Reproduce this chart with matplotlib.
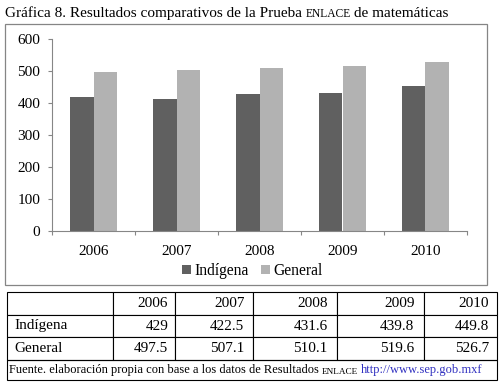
#!/usr/bin/env python3

import matplotlib
matplotlib.use("Agg")
import matplotlib.pyplot as plt
from matplotlib.patches import Rectangle
import numpy as np

#================ Data =====================
anios = ["2006", "2007", "2008", "2009", "2010"]
# heights
indigena_barras = [419, 413, 427, 431, 453]
general_barras = [497, 504, 510, 516, 527]
# values printed in the table underneath
indigena_tabla = ["429", "422.5", "431.6", "439.8", "449.8"]
general_tabla = ["497.5", "507.1", "510.1", "519.6", "526.7"]
series = ["Indígena", "General"]

SERIF = "Liberation Serif"
W, H = 502, 385


def fx(px):
    return px / W


def fy(py):
    # pixel from top -> figure fraction
    return 1 - py / H


def rich_text(fig, x, y, parts):
    """Draw consecutive text pieces on one baseline (used for the small caps)."""
    renderer = fig.canvas.get_renderer()
    for s, size, color, gap in parts:
        t = fig.text(x, y, s, fontsize=size, color=color, va="baseline",
                     ha="left", family=SERIF)
        width = t.get_window_extent(renderer).width
        # space width at this size
        a = fig.text(0, 0, "n n", fontsize=size, family=SERIF)
        b = fig.text(0, 0, "nn", fontsize=size, family=SERIF)
        sp = a.get_window_extent(renderer).width - b.get_window_extent(renderer).width
        a.remove()
        b.remove()
        x += (width + gap * sp) / fig.bbox.width


fig = plt.figure(figsize=(W / 100, H / 100), dpi=100)
fig.patch.set_facecolor("white")

#================ Title =====================
rich_text(fig, fx(5), fy(17), [
    ("Gráfica 8. Resultados comparativos de la Prueba", 11, "black", 1),
    ("ENLACE", 8.3, "black", 1),
    ("de matemáticas", 11, "black", 0),
])

# chart frame
fig.patches.append(Rectangle((fx(5), fy(285)), fx(482), 261 / H,
                             transform=fig.transFigure, fill=False,
                             edgecolor="#858585", linewidth=0.9))

#================ Bar chart =====================
ax = fig.add_axes([fx(52), fy(230.7), fx(415), 191.7 / H])
x = np.arange(len(anios))
w = 0.283
b1 = ax.bar(x - w / 2, indigena_barras, w, color="#606060", label=series[0])
b2 = ax.bar(x + w / 2, general_barras, w, color="#b2b2b2", label=series[1])

ax.set_xlim(-0.5, len(anios) - 0.5)
ax.set_ylim(0, 600)
ax.set_yticks(range(0, 601, 100))
ax.set_xticks(x)
ax.set_xticklabels(anios)
ax.set_xticks(np.arange(-0.5, len(anios)), minor=True)
for s in ["top", "right"]:
    ax.spines[s].set_visible(False)
for s in ["left", "bottom"]:
    ax.spines[s].set_color("#868686")
    ax.spines[s].set_linewidth(0.8)
ax.tick_params(axis="y", length=3, width=0.8, color="#868686", pad=5.5,
               labelsize=11)
ax.tick_params(axis="x", which="major", length=0, pad=10, labelsize=11)
ax.tick_params(axis="x", which="minor", length=3, width=0.8, color="#868686")
for lab in ax.get_xticklabels() + ax.get_yticklabels():
    lab.set_fontfamily(SERIF)

fig.legend(handles=[b1, b2], labels=series, loc="center",
           bbox_to_anchor=(fx(252), fy(271)), ncol=2, frameon=False,
           handlelength=0.6, handleheight=0.6, handletextpad=0.2,
           columnspacing=0.8, prop={"family": SERIF, "size": 11.2})

#================ Table =====================
bordes = [7, 113, 175, 253, 337, 424, 497]
anchos = np.diff(bordes) / (bordes[-1] - bordes[0])
filas = [[""] + anios, [series[0]] + indigena_tabla, [series[1]] + general_tabla]

tax = fig.add_axes([fx(7), fy(360), fx(490), 68 / H])
tax.axis("off")
tabla = tax.table(cellText=filas, colWidths=anchos, bbox=[0, 0, 1, 1],
                  cellLoc="right")
tabla.auto_set_font_size(False)
tabla.set_fontsize(11)
for (r, c), cell in tabla.get_celld().items():
    cell.set_edgecolor("black")
    cell.set_linewidth(0.8)
    cell.get_text().set_fontfamily(SERIF)
    if c == 0:
        cell.get_text().set_ha("left")
        cell.PAD = 0.07
    else:
        cell.PAD = 0.11

# source row spanning the whole width
fig.patches.append(Rectangle((fx(7), fy(380)), fx(490), 20 / H,
                             transform=fig.transFigure, fill=False,
                             edgecolor="black", linewidth=0.8))
rich_text(fig, fx(9), fy(373.5), [
    ("Fuente. elaboración propia con base a los datos de Resultados", 9.0, "black", 1),
    ("ENLACE", 6.7, "black", 1),
    ("http://www.sep.gob.mxf", 9.0, "#3030c0", 0),
])

fig.savefig("out.png", dpi=100)
